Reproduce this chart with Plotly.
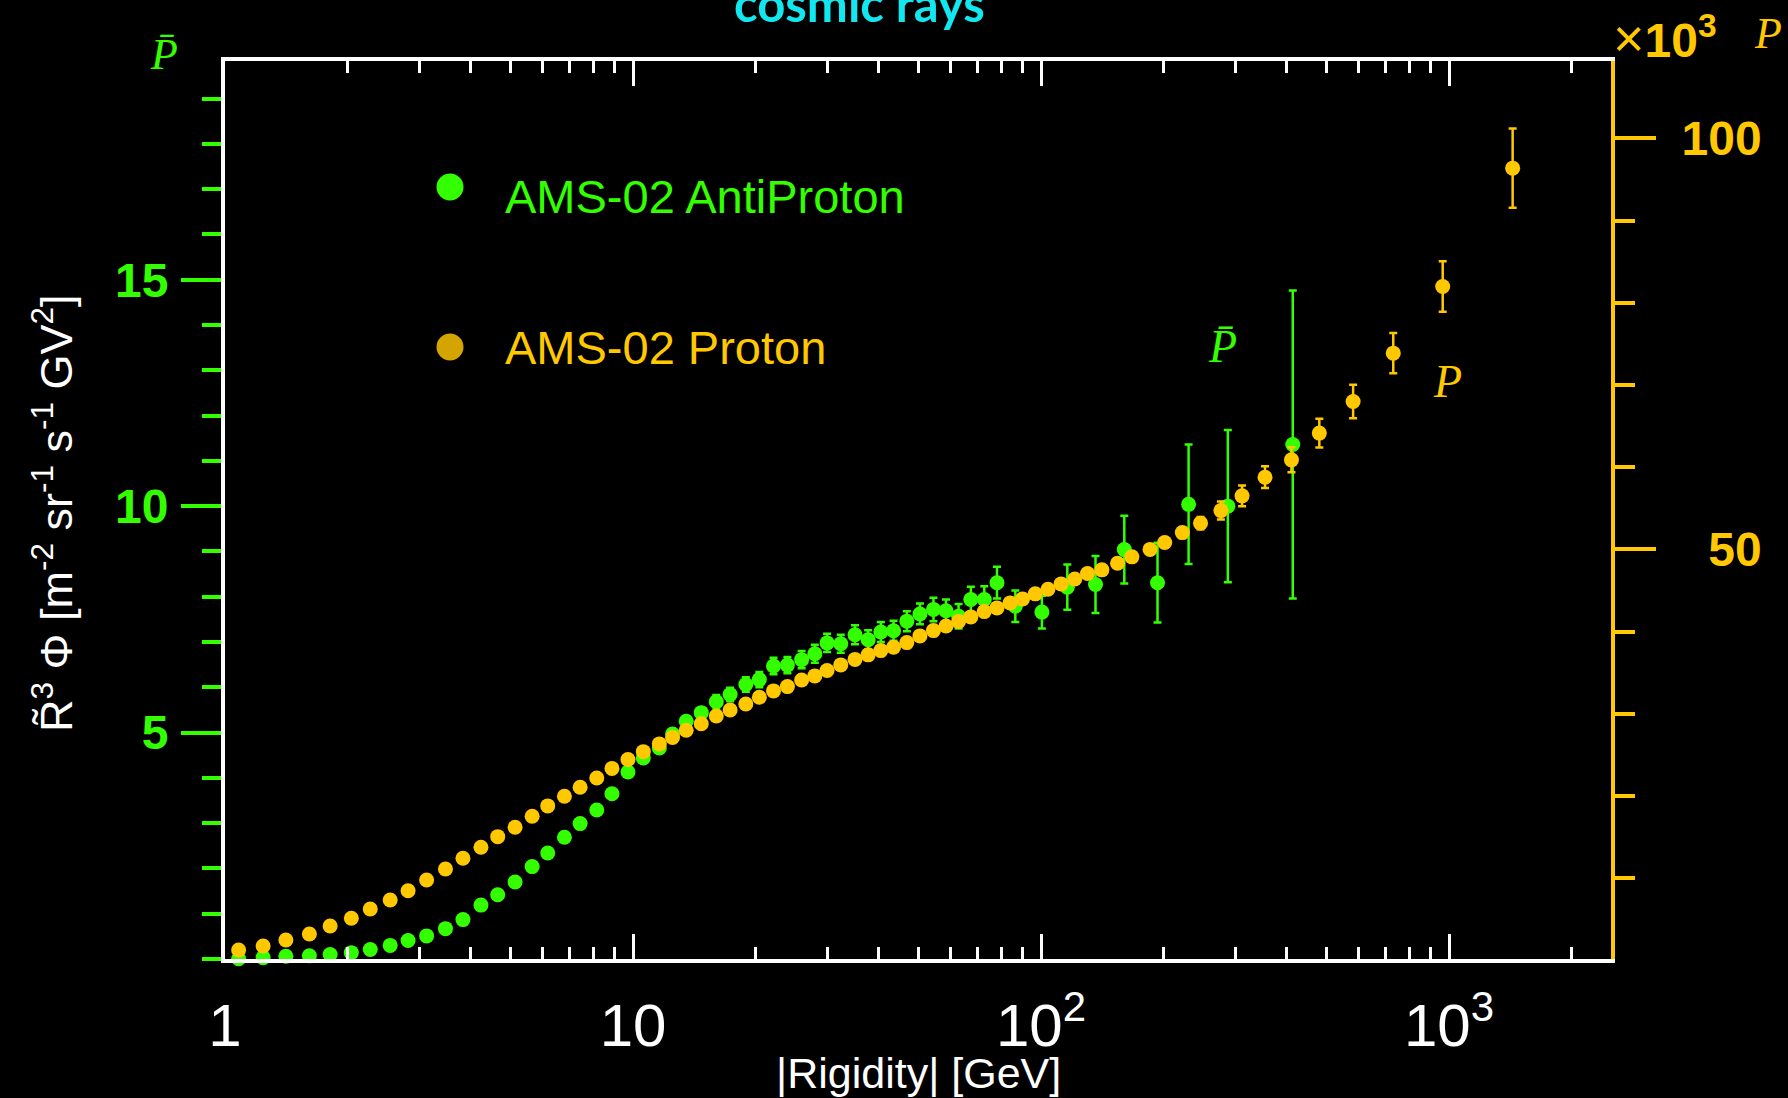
import plotly.graph_objects as go

# AMS-02 proton: bin rigidity |R| (GV), R~^3-weighted flux (x10^3) and errors
proton_rigidity = [1.08, 1.24, 1.41, 1.61, 1.81, 2.04, 2.27, 2.54, 2.81, 3.12,
                   3.47, 3.83, 4.24, 4.66, 5.14, 5.66, 6.18, 6.79, 7.42, 8.15,
                   8.88, 9.72, 10.6, 11.6, 12.5, 13.5, 14.7, 16.0, 17.3, 18.9,
                   20.4, 22.1, 23.9, 25.9, 27.9, 29.9, 32.3, 35.0, 37.7, 40.5,
                   43.5, 46.9, 50.5, 54.5, 58.5, 62.8, 67.3, 72.6, 78.0, 84.0,
                   90.1, 96.8, 104, 112, 121, 130, 141, 154, 167, 185,
                   201, 222, 246, 276, 311, 354, 411, 481, 582, 730,
                   965, 1432]
proton_flux = [1.28, 1.76, 2.49, 3.22, 4.20, 5.13, 6.27, 7.36, 8.49, 9.79,
               11.13, 12.43, 13.77, 15.06, 16.20, 17.54, 18.80, 19.98, 21.07, 22.20,
               23.36, 24.45, 25.40, 26.34, 27.13, 28.00, 28.80, 29.74, 30.47, 31.20,
               32.02, 32.79, 33.31, 34.12, 34.61, 35.26, 35.95, 36.62, 37.17, 37.69,
               38.10, 38.66, 39.48, 40.12, 40.69, 41.24, 41.79, 42.43, 42.88, 43.49,
               43.98, 44.59, 45.16, 45.80, 46.40, 47.07, 47.51, 48.32, 49.09, 50.00,
               50.83, 52.04, 53.19, 54.72, 56.51, 58.78, 60.89, 64.14, 67.98, 73.87,
               81.97, 96.37]
proton_err = [0.3] * 50 + [0.35, 0.35, 0.4, 0.4, 0.45, 0.45, 0.5, 0.5, 0.55, 0.6,
                           0.6, 0.65, 0.75, 1.1, 1.26, 1.32, 1.52, 1.76, 2.03, 2.46,
                           3.08, 4.82]

# AMS-02 antiproton: bin rigidity |R| (GV), R~^3-weighted flux and errors
antiproton_rigidity = [1.08, 1.24, 1.41, 1.61, 1.81, 2.04, 2.27, 2.54, 2.81, 3.12,
                       3.47, 3.83, 4.24, 4.66, 5.14, 5.66, 6.18, 6.79, 7.42, 8.15,
                       8.88, 9.72, 10.6, 11.6, 12.5, 13.5, 14.7, 16.0, 17.3, 18.9,
                       20.4, 22.1, 23.9, 25.9, 27.9, 29.9, 32.3, 35.0, 37.7, 40.5,
                       43.5, 46.9, 50.5, 54.5, 58.5, 62.8, 67.3, 72.6, 78.0,
                       86.5, 100.5, 116, 136, 160, 193, 230, 287, 414]
antiproton_flux = [0.005, 0.03, 0.06, 0.07, 0.10, 0.14, 0.21, 0.30, 0.41, 0.51,
                   0.67, 0.87, 1.19, 1.42, 1.70, 2.04, 2.34, 2.69, 2.99, 3.29,
                   3.65, 4.13, 4.44, 4.66, 4.97, 5.25, 5.44, 5.68, 5.84, 6.06,
                   6.17, 6.47, 6.49, 6.61, 6.74, 6.98, 6.96, 7.16, 7.05, 7.22,
                   7.25, 7.46, 7.62, 7.72, 7.69, 7.57, 7.94, 7.94, 8.31,
                   7.79, 7.66, 8.21, 8.27, 9.04, 8.31, 10.04, 10.00, 11.36]
antiproton_err = [0.03] * 20 + [0.1] * 7 + [0.15, 0.15, 0.16, 0.17, 0.18, 0.18, 0.19, 0.2,
                                            0.2, 0.2, 0.21, 0.21, 0.22, 0.22, 0.22,
                                            0.23, 0.26, 0.25, 0.27, 0.28, 0.29, 0.35,
                                            0.35, 0.36, 0.50, 0.63, 0.75, 0.88, 1.32,
                                            1.68, 3.40]

# axis ticks
x_tick_values = [1, 10, 100, 1000]
x_tick_labels = ["1", "10", "10<sup>2</sup>", "10<sup>3</sup>"]
x_minor_values = [m * d for d in (1, 10, 100) for m in range(2, 10)] + [2000]
left_tick_values = [5, 10, 15]
right_tick_values = [50, 100]
right_tick_labels = ["\u200750", "100"]

GREEN = "#33FF00"
YELLOW = "#FFC800"
LEGEND_GOLD = "#D4A400"
CYAN = "#12E6EE"
SANS = "Liberation Sans, Arial, sans-serif"
SERIF = "Liberation Serif, DejaVu Serif, serif"

fig = go.Figure()

fig.add_trace(go.Scatter(
    x=antiproton_rigidity, y=antiproton_flux, mode="markers", yaxis="y",
    marker=dict(color=GREEN, size=15),
    error_y=dict(type="data", array=antiproton_err, color=GREEN, thickness=2.5, width=4),
    cliponaxis=False, showlegend=False, name="AMS-02 AntiProton"))

fig.add_trace(go.Scatter(
    x=proton_rigidity, y=proton_flux, mode="markers", yaxis="y2",
    marker=dict(color=YELLOW, size=15),
    error_y=dict(type="data", array=proton_err, color=YELLOW, thickness=2.5, width=4),
    cliponaxis=False, showlegend=False, name="AMS-02 Proton"))

W, H = 1788, 1098
ML, MR, MT, MB = 225, 177, 61, 139
PW, PH = W - ML - MR, H - MT - MB


def px(x):
    return (x - ML) / PW


def py(y):
    return (H - MB - y) / PH


annotations = [
    dict(text="<b>cosmic rays</b>", x=px(859), y=py(3), xref="paper", yref="paper",
         xanchor="center", yanchor="middle", showarrow=False,
         font=dict(family="Lato, Open Sans, sans-serif", size=49, color=CYAN)),
    dict(text="<i>P\u0304</i>", x=px(164), y=py(55), xref="paper", yref="paper",
         xanchor="center", yanchor="middle", showarrow=False,
         font=dict(family=SERIF, size=44, color=GREEN)),
    dict(text="<span style='font-size:54px'>\u00d7</span><b>10</b><sup><b>3</b></sup>",
         x=px(1611), y=py(37), xref="paper", yref="paper",
         xanchor="left", yanchor="middle", showarrow=False,
         font=dict(family=SANS, size=48, color=YELLOW)),
    dict(text="<i>P</i>", x=px(1768), y=py(33), xref="paper", yref="paper",
         xanchor="center", yanchor="middle", showarrow=False,
         font=dict(family=SERIF, size=44, color=YELLOW)),
    dict(text="<i>P\u0304</i>", x=px(1222), y=py(346), xref="paper", yref="paper",
         xanchor="center", yanchor="middle", showarrow=False,
         font=dict(family=SERIF, size=46, color=GREEN)),
    dict(text="<i>P</i>", x=px(1447), y=py(381), xref="paper", yref="paper",
         xanchor="center", yanchor="middle", showarrow=False,
         font=dict(family=SERIF, size=46, color=YELLOW)),
    dict(text="AMS-02 AntiProton", x=px(503), y=py(197), xref="paper", yref="paper",
         xanchor="left", yanchor="middle", showarrow=False,
         font=dict(family=SANS, size=47, color=GREEN)),
    dict(text="AMS-02 Proton", x=px(503), y=py(347.5), xref="paper", yref="paper",
         xanchor="left", yanchor="middle", showarrow=False,
         font=dict(family=SANS, size=47, color=YELLOW)),
    dict(text="|Rigidity| [GeV]", x=0.5, y=py(1072.5), xref="paper", yref="paper",
         xanchor="center", yanchor="middle", showarrow=False,
         font=dict(family=SANS, size=43, color="white")),
    dict(text="R\u0303<sup>3</sup> \u03a6 [m<sup>-2</sup> sr<sup>-1</sup> s<sup>-1</sup> GV<sup>2</sup>]",
         x=px(53), y=py(513), xref="paper", yref="paper", textangle=-90,
         xanchor="center", yanchor="middle", showarrow=False,
         font=dict(family=SANS, size=45, color="white")),
]

legend_dots = [
    dict(type="circle", xref="paper", yref="paper", xsizemode="pixel", ysizemode="pixel",
         xanchor=px(450), yanchor=py(187), x0=-13.5, x1=13.5, y0=-13.5, y1=13.5,
         fillcolor=GREEN, line=dict(width=0)),
    dict(type="circle", xref="paper", yref="paper", xsizemode="pixel", ysizemode="pixel",
         xanchor=px(450), yanchor=py(347), x0=-13.5, x1=13.5, y0=-13.5, y1=13.5,
         fillcolor=LEGEND_GOLD, line=dict(width=0)),
]

fig.update_layout(
    width=W, height=H,
    margin=dict(l=ML, r=MR, t=MT, b=MB, pad=0),
    paper_bgcolor="black", plot_bgcolor="black",
    font=dict(family=SANS, color="white"),
    annotations=annotations,
    shapes=legend_dots,
    xaxis=dict(
        type="log", range=[0, 3.397],
        showline=True, linecolor="white", linewidth=4, mirror="ticks",
        ticks="inside", tickcolor="white", tickwidth=3, ticklen=25,
        tickmode="array", tickvals=x_tick_values, ticktext=x_tick_labels,
        tickfont=dict(family=SANS, size=60, color="white"),
        ticklabelstandoff=11,
        minor=dict(tickmode="array", tickvals=x_minor_values, ticks="inside",
                   ticklen=12, tickwidth=3, tickcolor="white"),
        showgrid=False, zeroline=False,
    ),
    yaxis=dict(
        range=[0.0, 19.83],
        showline=True, linecolor="white", linewidth=4,
        ticks="outside", tickcolor=GREEN, tickwidth=4, ticklen=40,
        tickmode="array", tickvals=left_tick_values,
        tickfont=dict(family=SANS, size=48, color=GREEN, weight="bold"),
        ticklabelstandoff=3,
        minor=dict(dtick=1, tick0=0, ticks="outside", ticklen=19, tickwidth=4,
                   tickcolor=GREEN),
        showgrid=False, zeroline=False,
    ),
    yaxis2=dict(
        overlaying="y", side="right", range=[0.18, 109.4],
        showline=True, linecolor=YELLOW, linewidth=4,
        ticks="outside", tickcolor=YELLOW, tickwidth=4, ticklen=41,
        tickmode="array", tickvals=right_tick_values, ticktext=right_tick_labels,
        tickfont=dict(family=SANS, size=48, color=YELLOW, weight="bold"),
        ticklabelstandoff=16,
        minor=dict(dtick=10, tick0=0, ticks="outside", ticklen=20, tickwidth=4,
                   tickcolor=YELLOW),
        showgrid=False, zeroline=False,
    ),
)

fig.write_html("out.html")
